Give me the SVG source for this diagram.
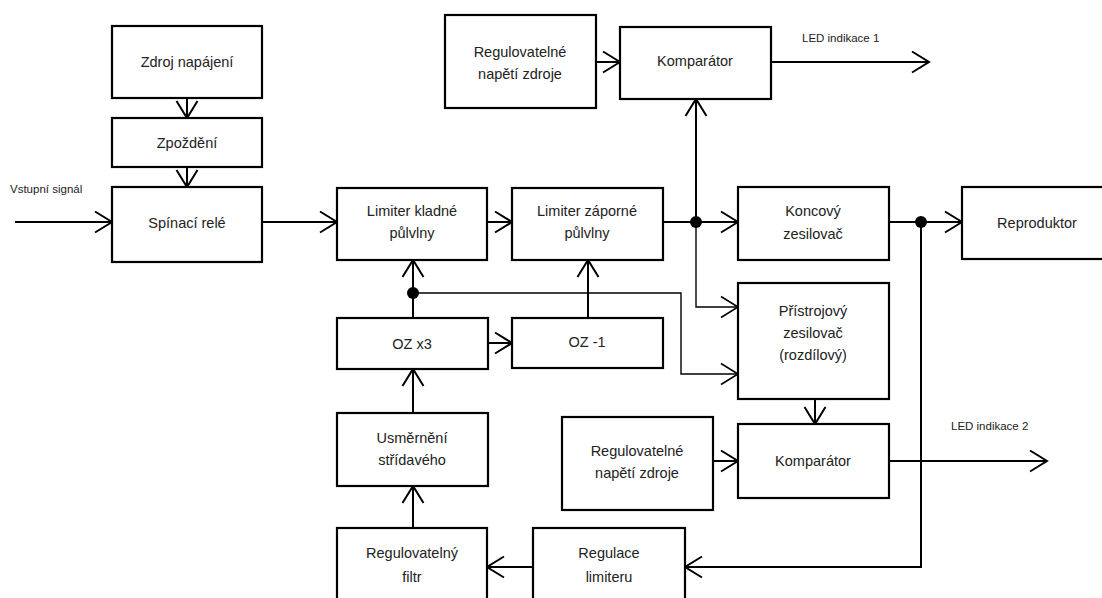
<svg xmlns="http://www.w3.org/2000/svg" width="1102" height="598" viewBox="0 0 1102 598">
<style>
.box{fill:#fff;stroke:#000;stroke-width:2.2}
.t{font-family:"Liberation Sans",Arial,sans-serif;font-size:14.5px;fill:#222;text-anchor:middle}
.s{font-family:"Liberation Sans",Arial,sans-serif;font-size:11.5px;fill:#222}
.c{fill:none;stroke:#000;stroke-width:2}
.c2{fill:none;stroke:#000;stroke-width:1.4}
</style>
<defs>
<marker id="a" markerUnits="userSpaceOnUse" markerWidth="24" markerHeight="26" refX="20" refY="12" orient="auto" overflow="visible">
<path d="M3 1.5 L20 12 L3 22.5" fill="none" stroke="#000" stroke-width="2"/>
</marker>
<marker id="b" markerUnits="userSpaceOnUse" markerWidth="24" markerHeight="26" refX="20" refY="12" orient="auto" overflow="visible">
<path d="M3 1.5 L20 12 L3 22.5" fill="none" stroke="#000" stroke-width="1.6"/>
</marker>
</defs>
<rect width="1102" height="598" fill="#fff"/>
<g id="connectors">
<path class="c" d="M187 98 V118" marker-end="url(#a)"/>
<path class="c" d="M187 167 V187" marker-end="url(#a)"/>
<path class="c" d="M15 222 H112" marker-end="url(#a)"/>
<path class="c" d="M262 222 H337" marker-end="url(#a)"/>
<path class="c" d="M487 222 H512" marker-end="url(#a)"/>
<path class="c" d="M663 222 H738" marker-end="url(#a)"/>
<path class="c" d="M696 222 V99" marker-end="url(#a)"/>
<path class="c" d="M596 62 H620" marker-end="url(#a)"/>
<path class="c" d="M771 62 H929" marker-end="url(#a)"/>
<path class="c" d="M889 222 H962" marker-end="url(#a)"/>
<path class="c" d="M921 222 V567 H685" marker-end="url(#a)"/>
<path class="c" d="M533 567 H487" marker-end="url(#a)"/>
<path class="c" d="M413 528 V486" marker-end="url(#a)"/>
<path class="c" d="M413 413 V369" marker-end="url(#a)"/>
<path class="c" d="M413 318 V260" marker-end="url(#a)"/>
<path class="c2" d="M413 293 H681 V374 H738" marker-end="url(#b)"/>
<path class="c2" d="M696 222 V307 H738" marker-end="url(#b)"/>
<path class="c" d="M488 343 H512" marker-end="url(#a)"/>
<path class="c" d="M588 318 V260" marker-end="url(#a)"/>
<path class="c" d="M815 399 V424" marker-end="url(#a)"/>
<path class="c" d="M713 461 H738" marker-end="url(#a)"/>
<path class="c" d="M889 461 H1047" marker-end="url(#a)"/>
<circle cx="696" cy="222" r="6"/>
<circle cx="921" cy="222" r="6"/>
<circle cx="413" cy="293" r="6"/>
</g>
<g id="labels">
<text class="s" x="10" y="193">Vstupní signál</text>
<text class="s" x="802" y="42">LED indikace 1</text>
<text class="s" x="951" y="430">LED indikace 2</text>
</g>
<g id="zdroj"><rect class="box" x="112" y="26" width="150" height="72"/><text class="t" x="187" y="67">Zdroj napájení</text></g>
<g id="zpozdeni"><rect class="box" x="112" y="118" width="150" height="49"/><text class="t" x="187" y="148">Zpoždění</text></g>
<g id="spinaci"><rect class="box" x="112" y="187" width="150" height="75"/><text class="t" x="187" y="228">Spínací relé</text></g>
<g id="reg1"><rect class="box" x="445" y="15" width="151" height="93"/><text class="t" x="520" y="57">Regulovatelné</text><text class="t" x="520" y="79">napětí zdroje</text></g>
<g id="komp1"><rect class="box" x="620" y="27" width="151" height="72"/><text class="t" x="695" y="66">Komparátor</text></g>
<g id="limk"><rect class="box" x="337" y="188" width="150" height="72"/><text class="t" x="412" y="216">Limiter kladné</text><text class="t" x="412" y="238">půlvlny</text></g>
<g id="limz"><rect class="box" x="512" y="188" width="151" height="72"/><text class="t" x="587" y="216">Limiter záporné</text><text class="t" x="587" y="238">půlvlny</text></g>
<g id="koncovy"><rect class="box" x="738" y="187" width="151" height="73"/><text class="t" x="813" y="216">Koncový</text><text class="t" x="813" y="239">zesilovač</text></g>
<g id="repro"><rect class="box" x="962" y="187" width="150" height="72"/><text class="t" x="1037" y="228">Reproduktor</text></g>
<g id="ozx3"><rect class="box" x="337" y="318" width="151" height="51"/><text class="t" x="412" y="349">OZ x3</text></g>
<g id="oz1"><rect class="box" x="512" y="318" width="151" height="50"/><text class="t" x="587" y="347">OZ -1</text></g>
<g id="pristroj"><rect class="box" x="738" y="283" width="151" height="116"/><text class="t" x="813" y="316">Přístrojový</text><text class="t" x="813" y="338">zesilovač</text><text class="t" x="813" y="360">(rozdílový)</text></g>
<g id="usmerneni"><rect class="box" x="337" y="413" width="151" height="73"/><text class="t" x="412" y="443">Usměrnění</text><text class="t" x="412" y="465">střídavého</text></g>
<g id="reg2"><rect class="box" x="562" y="417" width="151" height="93"/><text class="t" x="637" y="456">Regulovatelné</text><text class="t" x="637" y="478">napětí zdroje</text></g>
<g id="komp2"><rect class="box" x="738" y="424" width="151" height="74"/><text class="t" x="813" y="466">Komparátor</text></g>
<g id="filtr"><rect class="box" x="337" y="528" width="150" height="80"/><text class="t" x="412" y="558">Regulovatelný</text><text class="t" x="412" y="582">filtr</text></g>
<g id="regulace"><rect class="box" x="533" y="528" width="152" height="80"/><text class="t" x="609" y="558">Regulace</text><text class="t" x="609" y="582">limiteru</text></g>
</svg>
